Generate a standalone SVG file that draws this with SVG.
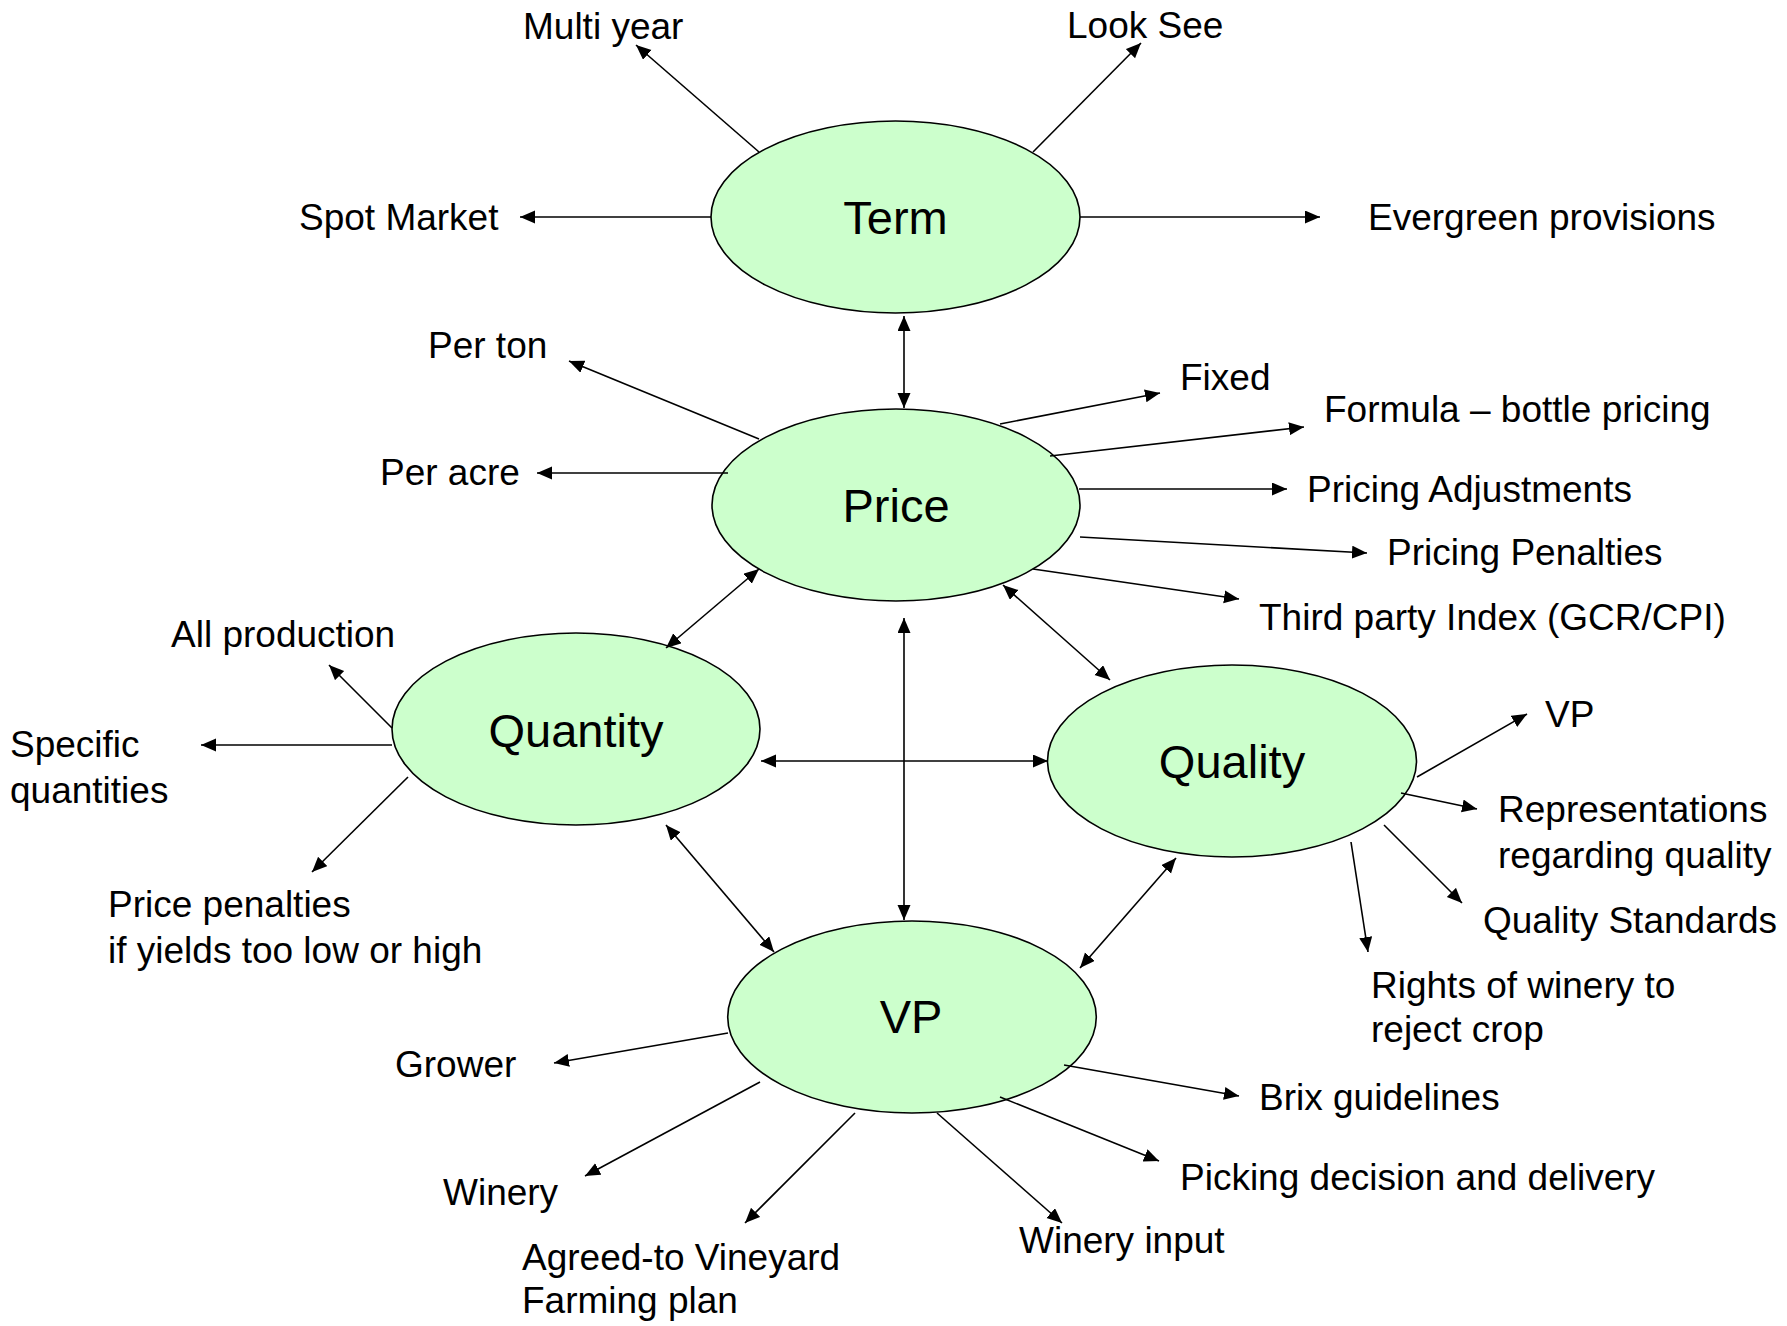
<svg xmlns="http://www.w3.org/2000/svg" width="1787" height="1326" viewBox="0 0 1787 1326">
  <style>
    .hub ellipse { fill: #CCFFCC; stroke: #000; stroke-width: 1.6; }
    .hub text { font-family: "Liberation Sans", Arial, sans-serif; font-size: 47px; fill: #000; text-anchor: middle; }
    .leaf text { font-family: "Liberation Sans", Arial, sans-serif; font-size: 37px; fill: #000; }
    #connectors line { stroke: #000; stroke-width: 1.6; fill: none; marker-end: url(#head); }
    #connectors line.both { marker-start: url(#head); }
  </style>
  <defs>
    <marker id="head" markerUnits="userSpaceOnUse" markerWidth="16" markerHeight="14" refX="15" refY="6.5" orient="auto-start-reverse">
      <path d="M0,0 L15,6.5 L0,13 Z" fill="#000"/>
    </marker>
  </defs>

  <rect width="1787" height="1326" fill="#fff"/>

  <!-- central topic ellipses -->
  <g id="node-term" class="hub">
    <ellipse cx="895.5" cy="217" rx="184.5" ry="96"/>
    <text x="895.5" y="234">Term</text>
  </g>
  <g id="node-price" class="hub">
    <ellipse cx="896" cy="505" rx="184" ry="96"/>
    <text x="896" y="522">Price</text>
  </g>
  <g id="node-quantity" class="hub">
    <ellipse cx="576" cy="729" rx="184" ry="96"/>
    <text x="576" y="747">Quantity</text>
  </g>
  <g id="node-quality" class="hub">
    <ellipse cx="1232" cy="761" rx="184.5" ry="96"/>
    <text x="1232" y="778">Quality</text>
  </g>
  <g id="node-vp" class="hub">
    <ellipse cx="912" cy="1017" rx="184.3" ry="96"/>
    <text x="911" y="1033">VP</text>
  </g>

  <!-- connectors -->
  <g id="connectors">
    <!-- Term -->
    <line x1="759" y1="152" x2="636" y2="45"/>
    <line x1="1033" y1="152" x2="1141" y2="43"/>
    <line x1="711" y1="217" x2="520" y2="217"/>
    <line x1="1080" y1="217" x2="1320" y2="217"/>
    <line class="both" x1="904" y1="316" x2="904" y2="408"/>
    <!-- Price -->
    <line x1="759" y1="439" x2="569" y2="361"/>
    <line x1="728" y1="473" x2="537" y2="473"/>
    <line x1="1000" y1="424" x2="1160" y2="393"/>
    <line x1="1050" y1="456" x2="1304" y2="427"/>
    <line x1="1079" y1="489" x2="1287" y2="489"/>
    <line x1="1080" y1="537" x2="1367" y2="553"/>
    <line x1="1033" y1="569" x2="1239" y2="599"/>
    <line class="both" x1="759" y1="569" x2="666" y2="648"/>
    <line class="both" x1="904" y1="618" x2="904" y2="920"/>
    <line class="both" x1="1003" y1="585" x2="1110" y2="680"/>
    <!-- Quantity -->
    <line x1="392" y1="728" x2="329" y2="665"/>
    <line x1="392" y1="745" x2="201" y2="745"/>
    <line x1="408" y1="777" x2="312" y2="872"/>
    <line class="both" x1="761" y1="761" x2="1048" y2="761"/>
    <line class="both" x1="666" y1="825" x2="774" y2="952"/>
    <!-- Quality -->
    <line x1="1417" y1="777" x2="1527" y2="714"/>
    <line x1="1401" y1="793" x2="1477" y2="809"/>
    <line x1="1384" y1="825" x2="1462" y2="903"/>
    <line x1="1351" y1="842" x2="1368" y2="952"/>
    <line class="both" x1="1176" y1="858" x2="1080" y2="968"/>
    <!-- VP -->
    <line x1="728" y1="1033" x2="554" y2="1063"/>
    <line x1="760" y1="1082" x2="585" y2="1176"/>
    <line x1="855" y1="1113" x2="745" y2="1223"/>
    <line x1="937" y1="1113" x2="1062" y2="1223"/>
    <line x1="1000" y1="1097" x2="1159" y2="1161"/>
    <line x1="1064" y1="1065" x2="1239" y2="1096"/>
  </g>

  <!-- Term items -->
  <g id="leaf-multi-year" class="leaf"><text x="523" y="39">Multi year</text></g>
  <g id="leaf-look-see" class="leaf"><text x="1067" y="38">Look See</text></g>
  <g id="leaf-spot-market" class="leaf"><text x="299" y="230">Spot Market</text></g>
  <g id="leaf-evergreen" class="leaf"><text x="1368" y="230">Evergreen provisions</text></g>

  <!-- Price items -->
  <g id="leaf-per-ton" class="leaf"><text x="428" y="358">Per ton</text></g>
  <g id="leaf-per-acre" class="leaf"><text x="380" y="485">Per acre</text></g>
  <g id="leaf-fixed" class="leaf"><text x="1180" y="390">Fixed</text></g>
  <g id="leaf-formula" class="leaf"><text x="1324" y="422">Formula – bottle pricing</text></g>
  <g id="leaf-adjustments" class="leaf"><text x="1307" y="502">Pricing Adjustments</text></g>
  <g id="leaf-penalties" class="leaf"><text x="1387" y="565">Pricing Penalties</text></g>
  <g id="leaf-index" class="leaf"><text x="1259" y="630">Third party Index (GCR/CPI)</text></g>

  <!-- Quantity items -->
  <g id="leaf-all-production" class="leaf"><text x="171" y="647">All production</text></g>
  <g id="leaf-specific" class="leaf">
    <text x="10" y="757">Specific</text>
    <text x="10" y="803">quantities</text>
  </g>
  <g id="leaf-price-penalties" class="leaf">
    <text x="108" y="917">Price penalties</text>
    <text x="108" y="963">if yields too low or high</text>
  </g>

  <!-- Quality items -->
  <g id="leaf-quality-vp" class="leaf"><text x="1545" y="727">VP</text></g>
  <g id="leaf-representations" class="leaf">
    <text x="1498" y="822">Representations</text>
    <text x="1498" y="868">regarding quality</text>
  </g>
  <g id="leaf-standards" class="leaf"><text x="1483" y="933">Quality Standards</text></g>
  <g id="leaf-rights" class="leaf">
    <text x="1371" y="998">Rights of winery to</text>
    <text x="1371" y="1042">reject crop</text>
  </g>

  <!-- VP items -->
  <g id="leaf-grower" class="leaf"><text x="395" y="1077">Grower</text></g>
  <g id="leaf-winery" class="leaf"><text x="443" y="1205">Winery</text></g>
  <g id="leaf-farming-plan" class="leaf">
    <text x="522" y="1270">Agreed-to Vineyard</text>
    <text x="522" y="1313">Farming plan</text>
  </g>
  <g id="leaf-winery-input" class="leaf"><text x="1019" y="1253">Winery input</text></g>
  <g id="leaf-picking" class="leaf"><text x="1180" y="1190">Picking decision and delivery</text></g>
  <g id="leaf-brix" class="leaf"><text x="1259" y="1110">Brix guidelines</text></g>
</svg>
